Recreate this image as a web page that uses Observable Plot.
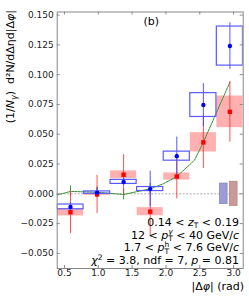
<!DOCTYPE html>
<html><head><meta charset="utf-8">
<script src="https://cdn.jsdelivr.net/npm/d3@7"></script>
<script src="https://cdn.jsdelivr.net/npm/@observablehq/plot@0.6"></script>
<style>
body{margin:0;background:#fff;}
svg{display:block;font-family:"DejaVu Sans",sans-serif;}
</style>
</head><body><div id="chart"></div>
<script>
// ---- data ----
const binCenters = [0.589, 0.982, 1.374, 1.767, 2.160, 2.553, 2.945];
const blueY   = [-0.0110, 0.0010, 0.0100, 0.0040, 0.0316, 0.0745, 0.1240];
const blueErr = [0.0040, 0.0040, 0.0030, 0.0150, 0.0160, 0.0180, 0.0195];
const blueSys = [0.0020, 0.0010, 0.0017, 0.0017, 0.0038, 0.0100, 0.0164];
const redY    = [-0.0155, -0.0005, 0.0160, -0.0150, 0.0145, 0.0432, 0.0688];
const redErr  = [0.0180, 0.0160, 0.0170, 0.0200, 0.0188, 0.0220, 0.0255];
const redSys  = [0.0031, 0.0008, 0.0032, 0.0034, 0.0030, 0.0081, 0.0133];
const fitX    = [0.393, 0.589, 0.982, 1.374, 1.767, 1.960, 2.160, 2.420, 2.553, 2.945];
const fitY    = [-0.0010, 0.0020, 0.0013, -0.0006, 0.0042, 0.0084, 0.0145, 0.0280, 0.0433, 0.0937];
const fitErrBins = [0.589, 0.982, 1.374, 1.767];
const fitErrY    = [0.0020, 0.0013, -0.0006, 0.0042];
const fitErr     = [0.0045, 0.0045, 0.0045, 0.0045];
const normX   = [2.855, 3.002];
const normErr = [0.0086, 0.0101];
const normName = ["blue", "brown"];
const xTicks = [0.5, 1.0, 1.5, 2.0, 2.5, 3.0];
const yTicks = [-0.05, -0.025, 0, 0.025, 0.05, 0.075, 0.1, 0.125, 0.15];

// ---- layout ----
const W = 249, H = 299, mL = 56.7, mR = 6.3, mT = 11.5, mB = 31;
const plotW = W - mL - mR, plotH = H - mT - mB;
const boxHalf = 0.193, normHalf = 0.056;

const blue = binCenters.map((x, i) => ({x, y: blueY[i], err: blueErr[i], sys: blueSys[i]}));
const red  = binCenters.map((x, i) => ({x, y: redY[i], err: redErr[i], sys: redSys[i]}));
const fit  = fitX.map((x, i) => ({x, y: fitY[i]}));
const fitE = fitErrBins.map((x, i) => ({x, y: fitErrY[i], err: fitErr[i]}));
const norm = normX.map((x, i) => ({x, err: normErr[i], name: normName[i]}));

const chart = Plot.plot({
  width: W, height: H,
  marginLeft: mL, marginRight: mR, marginTop: mT, marginBottom: mB,
  x: {domain: [Math.PI / 8, Math.PI]},
  y: {domain: [-0.0627, 0.1526]},
  style: {fontFamily: "DejaVu Sans", fontSize: "9px", color: "#222", background: "#fff"},
  marks: [
    Plot.ruleY([0], {stroke: "#aaa", strokeDasharray: "2,1.5"}),
    Plot.rect(red, {x1: d => d.x - boxHalf, x2: d => d.x + boxHalf, y1: d => d.y - d.sys, y2: d => d.y + d.sys,
      fill: "#ff9090", fillOpacity: 0.7, clip: true}),
    Plot.rect(norm, {x1: d => d.x - normHalf, x2: d => d.x + normHalf, y1: d => -d.err, y2: d => d.err,
      fill: d => d.name === "blue" ? "#9b9bd6" : "#c99a9a",
      stroke: d => d.name === "blue" ? "#8686c8" : "#b58282", strokeWidth: 0.8}),
    Plot.line(fit, {x: "x", y: "y", stroke: "#2f8f2f", strokeWidth: 1, strokeDasharray: "2,1"}),
    Plot.ruleX(fitE, {x: "x", y1: d => d.y - d.err, y2: d => d.y + d.err, stroke: "#3a9a3a", strokeWidth: 1}),
    Plot.ruleX(red, {x: "x", y1: d => d.y - d.err, y2: d => d.y + d.err, stroke: "#ff3030", strokeWidth: 1, strokeOpacity: 0.85}),
    Plot.ruleX(blue, {x: "x", y1: d => d.y - d.err, y2: d => d.y + d.err, stroke: "#3a3aff", strokeWidth: 1, strokeOpacity: 0.85}),
    Plot.rect(blue, {x1: d => d.x - boxHalf, x2: d => d.x + boxHalf, y1: d => d.y - d.sys, y2: d => d.y + d.sys,
      fill: "none", stroke: "#5a5aff", strokeWidth: 1.2, clip: true}),
    Plot.dot(red, {x: "x", y: "y", symbol: "square", fill: "#ff0000", r: 2.5}),
    Plot.dot(blue, {x: "x", y: "y", fill: "#0000ff", r: 2.2}),
    Plot.frame({stroke: "#888"}),
    Plot.axisX(xTicks, {anchor: "bottom", tickSize: 0, tickPadding: 1.5, tickFormat: d3.format(".1f"), label: null}),
    Plot.axisY(yTicks, {anchor: "left", tickSize: 0, tickPadding: 3.5, tickFormat: d3.format(".3f"), label: null}),
    Plot.tickY(yTicks, {y: d => d, insetRight: plotW - 3, stroke: "#888"}),
    Plot.tickY(yTicks, {y: d => d, insetLeft: plotW - 3, stroke: "#888"}),
    Plot.tickX(xTicks, {x: d => d, insetTop: plotH - 3, stroke: "#888"}),
    Plot.tickX(xTicks, {x: d => d, insetBottom: plotH - 3, stroke: "#888"})
  ]
});
document.getElementById("chart").appendChild(chart);

// ---- rich text (sub/superscripts) ----
const svg = d3.select(chart);
function rich(x, y, parts, opts = {}) {
  const t = svg.append("text").attr("x", x).attr("y", y)
    .attr("text-anchor", opts.anchor || "end")
    .attr("font-family", "DejaVu Sans").attr("font-size", opts.size || 11).attr("fill", "#000");
  if (opts.transform) t.attr("transform", opts.transform);
  for (const p of parts) {
    const s = t.append("tspan").text(p.t);
    if (p.it) s.attr("font-style", "italic");
    if (p.fs) s.attr("font-size", p.fs);
    if (p.dy) s.attr("dy", p.dy);
    if (p.dx) s.attr("dx", p.dx);
  }
  return t;
}
const ax = 239;
rich(ax, 225.5, [{t: "0.14 < "}, {t: "z", it: 1}, {t: "T", fs: 7.5, dy: 2.5}, {t: " < 0.19", dy: -2.5}]);
rich(ax, 238.5, [{t: "12 < "}, {t: "p", it: 1}, {t: "T", fs: 7.5, dy: 2.5}, {t: "γ", it: 1, fs: 7.5, dx: -4.6, dy: -7},
  {t: " < 40 GeV/", dy: 4.5}, {t: "c", it: 1}]);
rich(ax, 251, [{t: "1.7 < "}, {t: "p", it: 1}, {t: "T", fs: 7.5, dy: 2.5}, {t: "h", fs: 7.5, dx: -4.6, dy: -7},
  {t: " < 7.6 GeV/", dy: 4.5}, {t: "c", it: 1}]);
rich(ax, 263.5, [{t: "χ", it: 1}, {t: "2", fs: 7.5, dy: -4}, {t: " = 3.8, ndf = 7, ", dy: 4}, {t: "p", it: 1}, {t: " = 0.81"}]);
rich(244, 290, [{t: "|Δ"}, {t: "φ", it: 1}, {t: "| (rad)"}]);
rich(151.3, 24.5, [{t: "(b)"}], {anchor: "middle"});
rich(0, 0, [{t: "(1/"}, {t: "N", it: 1}, {t: "γ", it: 1, fs: 8, dy: 3}, {t: ")  d²N/dΔηd|Δ", dy: -3}, {t: "φ", it: 1}, {t: "|"}],
  {anchor: "end", transform: "translate(13.5,10) rotate(-90)"});
</script>
</body></html>
